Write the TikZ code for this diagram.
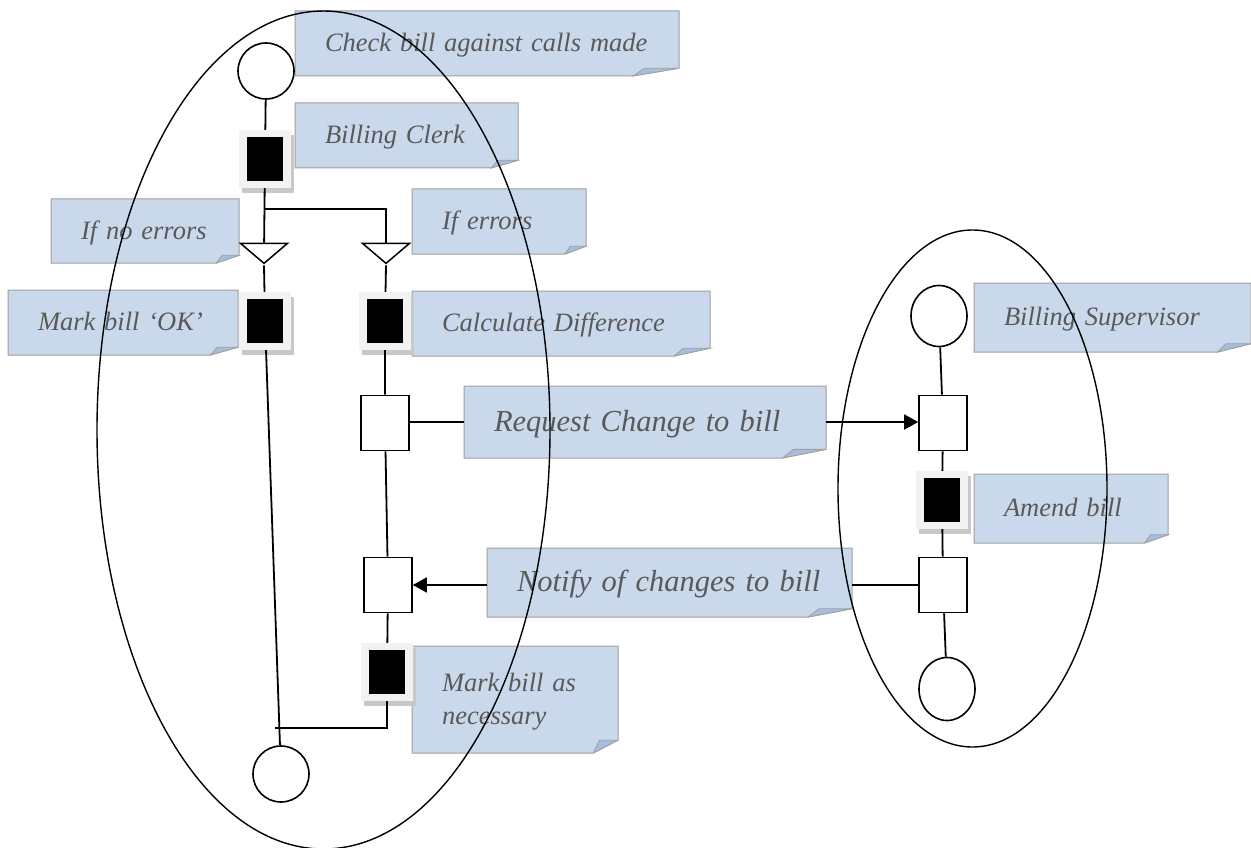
\documentclass[tikz,border=0pt]{standalone}
\usepackage{fontspec}
\setmainfont{Liberation Serif}
\usepackage{tikz}
\usetikzlibrary{calc,shapes.geometric,shadows,backgrounds,arrows.meta}
\definecolor{notefill}{RGB}{201,216,235}
\definecolor{notefold}{RGB}{165,190,222}
\definecolor{noteline}{RGB}{160,160,160}
\definecolor{notetext}{RGB}{89,89,89}
\definecolor{framegrey}{RGB}{242,242,242}
\definecolor{shadowgrey}{RGB}{200,200,200}
\newcommand{\notesmall}{\itshape\fontsize{26.5}{33}\selectfont}
\newcommand{\notelarge}{\itshape\fontsize{30.5}{36}\selectfont}
\newcommand{\notestrut}{\rule[-0.264em]{0pt}{1.15em}}
% #1 name, #2 x, #3 y (top left), #4 width, #5 height, #6 font, #7 text
\newcommand{\tikzNoteNode}[7]{
  \pgfmathsetmacro{\notetw}{#4-60}
  \node[note,anchor=north west,minimum width=#4pt,minimum height=#5pt,text width=\notetw pt,font=#6] (#1) at (#2,#3) {\notestrut#7};
  \begin{pgfonlayer}{background}
    \path[fill=notefill,draw=noteline,line width=1pt] (#1.north west) -- (#1.north east) -- ([yshift={0.12*#5}]#1.south east) -- ([xshift={-0.12*#4}]#1.south east) -- (#1.south west) -- cycle;
    \path[fill=notefold,draw=noteline,line width=0.8pt] ([xshift={-0.12*#4}]#1.south east) -- ([xshift={-0.09*#4},yshift={0.12*#5}]#1.south east) -- ([yshift={0.12*#5}]#1.south east) -- cycle;
  \end{pgfonlayer}
}

\begin{document}
\begin{tikzpicture}[x=1pt,y=-1pt,
  note/.style={rectangle,inner xsep=30pt,inner ysep=0pt,outer sep=0pt,align=left,text=notetext},
  place/.style={circle,draw,fill=white,line width=1.6pt,inner sep=0pt,minimum size=56pt},
  oplace/.style={ellipse,draw,fill=white,line width=1.6pt,inner sep=0pt,minimum width=56pt},
  wbox/.style={rectangle,draw,fill=white,line width=1.6pt,inner sep=0pt,minimum width=48pt,minimum height=55pt},
  taskbox/.style={rectangle,inner sep=0pt,minimum width=52pt,minimum height=58pt,fill=framegrey,
    drop shadow={shadow xshift=3pt,shadow yshift=-5pt,fill=shadowgrey,opacity=1},
    path picture={\fill[black] ([xshift=-18pt,yshift=-22pt]path picture bounding box.center) rectangle ([xshift=18pt,yshift=22pt]path picture bounding box.center);}},
  choice/.style={isosceles triangle,shape border rotate=-90,isosceles triangle stretches,draw,fill=white,line width=1.5pt,inner sep=0pt,minimum width=47pt,minimum height=20pt},
  link/.style={line width=1.8pt},
  swim/.style={line width=1.4pt},
  arr/.style={link,-{Triangle[length=14pt,width=15pt]}}]
  \useasboundingbox (0,0) rectangle (1251,848);

  % notes
  \tikzNoteNode{checkn}{295}{11}{384}{65}{\notesmall}{\mbox{Check bill against calls made}}
  \tikzNoteNode{clerkn}{295}{103}{223}{65}{\notesmall}{Billing Clerk}
  \tikzNoteNode{noerrn}{51}{199}{188}{64}{\notesmall}{If no errors}
  \tikzNoteNode{errn}{412}{189}{174}{65}{\notesmall}{If errors}
  \tikzNoteNode{okn}{8}{290}{230}{65}{\notesmall}{Mark bill ‘OK’}
  \tikzNoteNode{calcn}{412}{291}{298}{65}{\notesmall}{\mbox{Calculate Difference}}
  \tikzNoteNode{reqn}{464}{386}{362}{72}{\notelarge}{\mbox{Request Change to bill}}
  \tikzNoteNode{notn}{487}{548}{365}{69}{\notelarge}{\mbox{Notify of changes to bill}}
  \tikzNoteNode{supn}{974}{283}{277}{69}{\notesmall}{\mbox{Billing Supervisor}}
  \tikzNoteNode{amendn}{974}{474}{194}{69}{\notesmall}{Amend bill}
  \tikzNoteNode{fixn}{412}{646}{206}{107}{\notesmall}{Mark bill as\\necessary}

  % clerk
  \node[place] (start) at (266,71) {};
  \node[taskbox] (clerk) at (265,159) {};
  \coordinate (split) at (265,209);
  \node[choice] (noerr) at (264,252) {};
  \node[choice] (err) at (386,252) {};
  \node[taskbox] (okbox) at (265,321) {};
  \node[taskbox] (calc) at (385,321) {};
  \node[wbox] (req) at (385,423) {};
  \node[wbox] (recv) at (388,585) {};
  \node[taskbox] (fix) at (387,672) {};
  \coordinate (join) at (275,728);
  \node[place] (finish) at (281,774) {};

  % supervisor
  \node[oplace,minimum height=61pt] (sstart) at (939,316) {};
  \node[wbox] (inbox) at (943,423) {};
  \node[taskbox] (amend) at (942,500) {};
  \node[wbox] (outbox) at (943,585) {};
  \node[oplace,minimum height=63pt] (send) at (947,689) {};

  \draw[link] (start) -- (clerk);
  \draw[link] (clerk) -- (noerr);
  \draw[link] (split) -| (err);
  \draw[link] (noerr.apex) -- (okbox);
  \draw[link] (err.apex) -- (calc);
  \draw[link] (calc) -- (req) -- (recv) -- (fix);
  \draw[link] (fix) |- (join);
  \draw[link] (okbox) -- (finish);
  \draw[link] (req.east |- reqn) -- (reqn.west);
  \draw[arr] (reqn.east) -- (inbox.west |- reqn);
  \draw[link] (outbox.west) -- (notn.east |- outbox.west);
  \draw[arr] (notn.west |- recv) -- (recv.east);
  \draw[link] (sstart) -- (inbox) -- (amend) -- (outbox) -- (send);

  % lanes
  \draw[swim] (323.5,430) ellipse (226.5pt and 419pt);
  \draw[swim] (972.5,488.5) ellipse (134.5pt and 258.5pt);
\end{tikzpicture}
\end{document}
